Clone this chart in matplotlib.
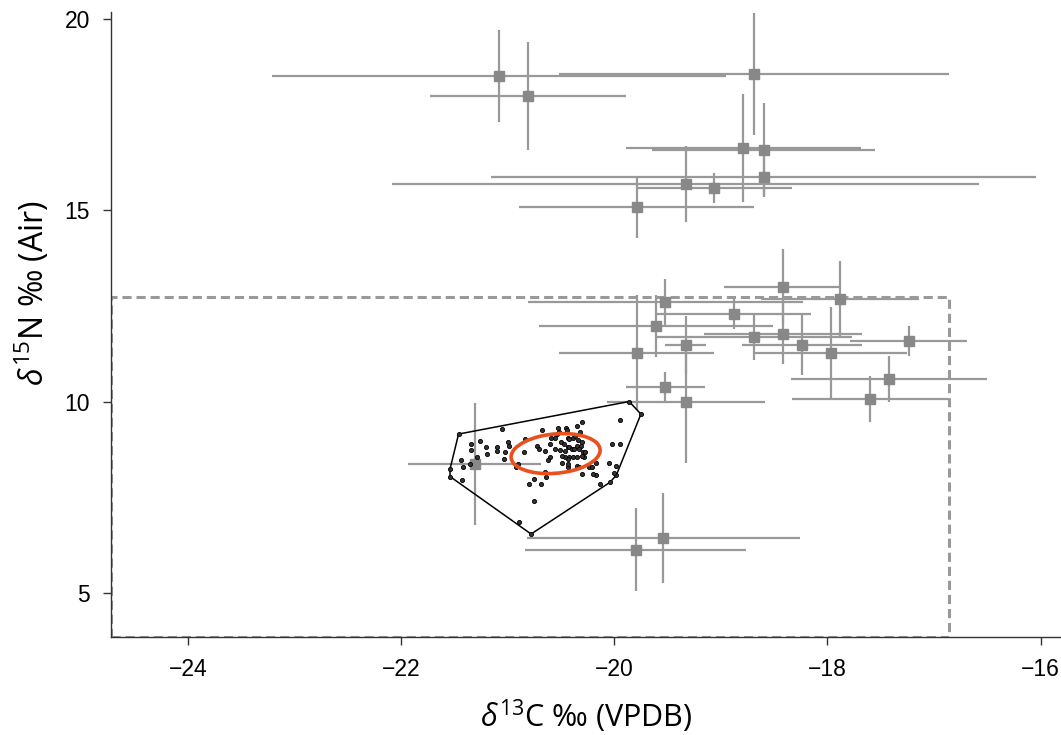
import numpy as np
import matplotlib
matplotlib.use("Agg")
import matplotlib.pyplot as plt
from matplotlib.patches import Ellipse, Rectangle

# gray squares: source values with 1 sd error bars
src_x = [-21.08, -20.81, -18.69, -18.79, -18.60, -18.60, -19.33, -19.06, -19.79,
         -19.52, -19.61, -19.33, -19.33, -19.79, -19.52, -18.88, -18.42, -18.42,
         -17.88, -18.69, -18.24, -17.97, -17.24, -17.42, -17.60, -19.80, -19.54, -21.31]
src_y = [18.51, 17.99, 18.56, 16.63, 16.58, 15.87, 15.69, 15.59, 15.09,
         12.61, 11.98, 11.49, 10.00, 11.28, 10.39, 12.30, 13.00, 11.78,
         12.69, 11.70, 11.49, 11.28, 11.59, 10.60, 10.08, 6.14, 6.45, 8.38]
src_xerr = [2.13, 0.92, 1.83, 1.10, 1.05, 2.56, 2.75, 0.73, 1.10,
            1.29, 1.10, 0.19, 0.74, 0.73, 0.37, 0.73, 0.55, 0.74,
            0.74, 0.92, 0.56, 0.72, 0.55, 0.92, 0.73, 1.04, 1.28, 0.62]
src_yerr = [1.20, 1.40, 1.60, 1.40, 1.23, 0.50, 1.00, 0.40, 0.80,
            0.60, 0.80, 0.75, 1.60, 1.50, 0.40, 0.40, 1.00, 0.80,
            1.00, 0.60, 0.80, 1.20, 0.40, 0.60, 0.60, 1.08, 1.17, 1.60]

# individual consumer values
ind_x = [-21.46, -19.86, -19.75, -19.98, -20.04, -20.78, -21.54, -21.54,
         -21.05, -20.68, -20.53, -20.45, -20.44, -20.35, -20.30, -19.95, -20.32,
         -21.26, -21.34, -21.34, -21.20, -21.19, -21.10, -21.10, -21.00, -20.99,
         -21.02, -21.03, -21.44, -21.42, -21.29, -21.35, -21.43, -20.84, -20.85,
         -20.90, -20.92, -20.59, -20.56, -20.54, -20.52, -20.43, -20.42, -20.39,
         -20.37, -20.34, -20.30, -20.72, -20.71, -20.65, -20.60, -20.56, -20.50,
         -20.47, -20.51, -20.46, -20.43, -20.42, -20.40, -20.38, -20.35, -20.31,
         -20.33, -20.29, -20.27, -20.28, -20.30, -20.35, -20.39, -20.42, -20.43,
         -20.46, -20.49, -20.60, -20.62, -20.49, -20.43, -20.43, -20.35, -20.33,
         -20.24, -20.21, -20.17, -20.17, -20.20, -20.30, -20.65, -20.64, -20.75,
         -20.80, -20.69, -20.75, -20.89, -20.02, -19.95, -20.05, -19.98, -20.13, -20.00]
ind_y = [9.16, 10.01, 9.68, 8.09, 7.90, 6.55, 8.05, 8.25,
         9.30, 9.26, 9.33, 9.33, 9.26, 9.38, 9.47, 9.54, 9.21,
         8.99, 8.91, 8.74, 8.83, 8.64, 8.81, 8.72, 8.94, 8.86,
         8.68, 8.50, 8.48, 8.29, 8.57, 8.37, 7.96, 9.03, 8.68,
         8.37, 8.29, 9.07, 9.05, 9.17, 9.21, 9.05, 9.03, 9.07,
         9.10, 9.01, 8.96, 8.86, 8.78, 8.72, 8.91, 8.78, 8.96,
         8.90, 8.74, 8.72, 8.81, 8.83, 8.77, 8.78, 8.86, 8.86,
         8.76, 8.68, 8.68, 8.57, 8.59, 8.55, 8.57, 8.55, 8.50,
         8.55, 8.59, 8.57, 8.48, 8.40, 8.31, 8.37, 8.33, 8.29,
         8.31, 8.31, 8.40, 8.09, 8.11, 8.11, 8.16, 8.05, 7.98,
         7.85, 7.85, 7.42, 6.87, 8.90, 8.90, 8.40, 8.33, 7.85, 8.15]

# standard ellipse (centre, axes, angle in data units)
sea_center = (-20.55, 8.65)
sea_width = 1.068
sea_height = 0.805
sea_angle = 71.6

# dashed box
box_x = (-24.72, -16.86)
box_y = (3.86, 12.74)


def convex_hull(px, py):
    pts = sorted(set(zip(px, py)))

    def cross(o, a, b):
        return (a[0] - o[0]) * (b[1] - o[1]) - (a[1] - o[1]) * (b[0] - o[0])

    lower, upper = [], []
    for p in pts:
        while len(lower) >= 2 and cross(lower[-2], lower[-1], p) <= 0:
            lower.pop()
        lower.append(p)
    for p in reversed(pts):
        while len(upper) >= 2 and cross(upper[-2], upper[-1], p) <= 0:
            upper.pop()
        upper.append(p)
    hull = lower[:-1] + upper[:-1]
    hull.append(hull[0])
    return np.array(hull)


plt.rcParams['font.family'] = ['Liberation Sans', 'DejaVu Sans']
plt.rcParams['mathtext.fontset'] = 'custom'
plt.rcParams['mathtext.rm'] = 'Open Sans'
plt.rcParams['mathtext.it'] = 'Open Sans:italic'

fig = plt.figure(figsize=(10.61, 7.35), dpi=100)
ax = fig.add_axes([0.1046, 0.1333, 0.8954, 0.8503])

ax.add_patch(Rectangle((box_x[0], box_y[0]), box_x[1] - box_x[0], box_y[1] - box_y[0],
                       fill=False, ls=(0, (3, 1.6)), lw=2.2, ec='#999999', zorder=1))

ax.errorbar(src_x, src_y, xerr=src_xerr, yerr=src_yerr, fmt='s', ms=7.5,
            color='#888888', ecolor='#999999', elinewidth=1.6, capsize=0, zorder=2)

hull = convex_hull(ind_x, ind_y)
ax.plot(hull[:, 0], hull[:, 1], color='black', lw=1.1, zorder=3)
ax.plot(ind_x, ind_y, 'o', ms=3.0, mfc='#333333', mec='black', mew=0.6, zorder=4)

ax.add_patch(Ellipse(sea_center, sea_width, sea_height, angle=sea_angle,
                     fill=False, ec='#E8501E', lw=2.6, zorder=5))

ax.set_xlim(-24.72, -15.81)
ax.set_ylim(3.86, 20.18)
ax.set_xticks([-24, -22, -20, -18, -16])
ax.set_yticks([5, 10, 15, 20])
ax.spines['top'].set_visible(False)
ax.spines['right'].set_visible(False)
for s in ('left', 'bottom'):
    ax.spines[s].set_color('#333333')
    ax.spines[s].set_linewidth(1.0)
ax.tick_params(direction='out', length=6, width=1, color='#333333',
               labelsize=16.5, pad=9)

lab_font = ['Open Sans', 'DejaVu Sans']
ax.set_xlabel(r'$\delta^{13}$C ‰ (VPDB)', fontsize=22, family=lab_font, labelpad=12)
ax.set_ylabel(r'$\delta^{15}$N ‰ (Air)', fontsize=23, family=lab_font)
ax.yaxis.set_label_coords(-0.062, 0.55)

fig.savefig('out.png', dpi=100)
